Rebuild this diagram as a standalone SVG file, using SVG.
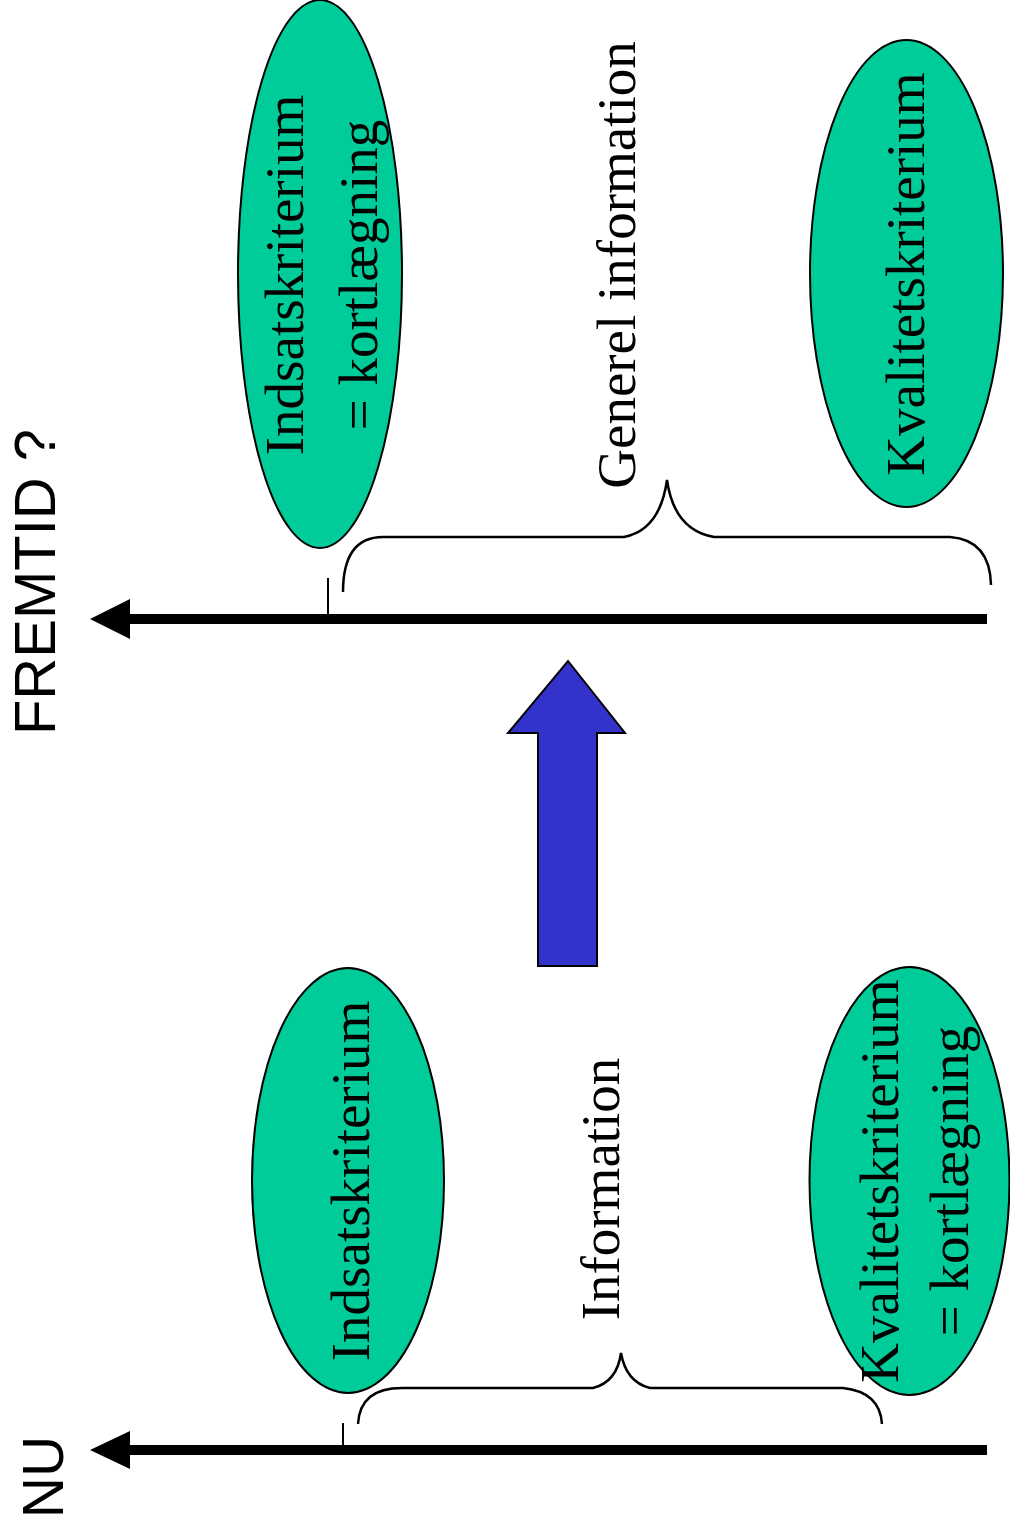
<svg xmlns="http://www.w3.org/2000/svg" width="1010" height="1528" viewBox="0 0 1010 1528">
<style>
.ell{fill:#00CC99;stroke:#000;stroke-width:2}
.serif{font-family:"Liberation Serif","Times New Roman",serif;font-size:55px;fill:#000;text-anchor:middle}
.sans{font-family:"Liberation Sans",Arial,sans-serif;fill:#000;text-anchor:middle}
.brace{fill:none;stroke:#000;stroke-width:2.5}
</style>
<rect width="1010" height="1528" fill="#fff"/>
<g id="connectors">
  <line x1="122" y1="619" x2="987" y2="619" stroke="#000" stroke-width="10"/>
  <polygon points="90,619 130,599 130,639" fill="#000"/>
  <line x1="122" y1="1450" x2="987" y2="1450" stroke="#000" stroke-width="10"/>
  <polygon points="90,1450 130,1431 130,1469" fill="#000"/>
  <line x1="328" y1="578" x2="328" y2="615" stroke="#000" stroke-width="2"/>
  <line x1="343" y1="1423" x2="343" y2="1446" stroke="#000" stroke-width="2"/>
  <path class="brace" d="M343,592 Q343,537 383,537 L624,537 Q660,530 667,480 Q674,530 714,537 L950,537 Q990,540 991,585"/>
  <path class="brace" d="M358,1424 Q360,1388 402,1388 L593,1388 Q617,1382 621,1353 Q626,1382 650,1388 L843,1388 Q880,1392 882,1424"/>
</g>
<g id="label-fremtid">
  <text class="sans" font-size="58" transform="translate(55,582) rotate(-90)">FREMTID ?</text>
</g>
<g id="label-nu">
  <text class="sans" font-size="57" transform="translate(63,1477) rotate(-90)">NU</text>
</g>
<g id="node-indsats-top">
  <ellipse class="ell" cx="320" cy="274" rx="82" ry="274"/>
  <text class="serif" transform="translate(303,275) rotate(-90)">Indsatskriterium</text>
  <text class="serif" transform="translate(377,275) rotate(-90)">= kortlægning</text>
</g>
<g id="node-kvalitet-top">
  <ellipse class="ell" cx="906.5" cy="273.5" rx="96.5" ry="233.5"/>
  <text class="serif" transform="translate(924,274) rotate(-90)">Kvalitetskriterium</text>
</g>
<g id="label-generel">
  <text class="serif" transform="translate(635,265) rotate(-90)">Generel information</text>
</g>
<g id="node-indsats-bottom">
  <ellipse class="ell" cx="348" cy="1180.5" rx="96" ry="212.5"/>
  <text class="serif" transform="translate(369,1181) rotate(-90)">Indsatskriterium</text>
</g>
<g id="node-kvalitet-bottom">
  <ellipse class="ell" cx="909.5" cy="1181" rx="100" ry="214"/>
  <text class="serif" transform="translate(898,1181) rotate(-90)">Kvalitetskriterium</text>
  <text class="serif" transform="translate(968,1181) rotate(-90)">= kortlægning</text>
</g>
<g id="label-information">
  <text class="serif" transform="translate(619,1189) rotate(-90)">Information</text>
</g>
<g id="blue-arrow">
  <polygon points="568,661 625,733 597,733 597,966 538,966 538,733 508,733" fill="#3333CC" stroke="#000" stroke-width="2"/>
</g>
</svg>
